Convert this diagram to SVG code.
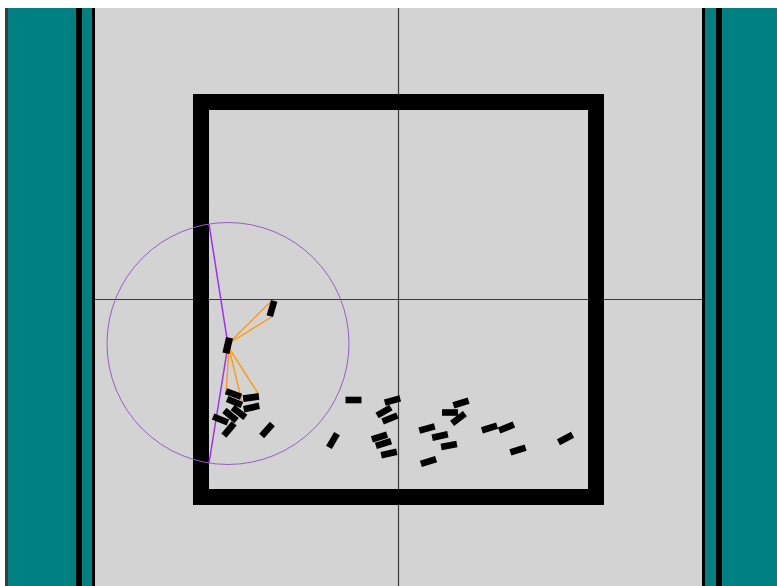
<svg xmlns="http://www.w3.org/2000/svg" xmlns:xlink="http://www.w3.org/1999/xlink" width="777" height="586" viewBox="0 0 777 586">
  <style>
    .teal { fill: #008080; }
    .blk { fill: #000000; }
    .axis { stroke: #3a3a3a; stroke-width: 1.2; fill: none; }
    .ray { stroke: #ff9a10; stroke-width: 1.4; fill: none; }
    .sense { stroke: #a030f0; stroke-width: 1.5; fill: none; }
  </style>
  <defs>
    <rect id="ob" x="-8" y="-3.3" width="16" height="6.6" fill="#000"/>
  </defs>
  <rect x="0" y="0" width="777" height="586" fill="#ffffff"/>
  <!-- left walls -->
  <rect x="5" y="8" width="3" height="578" fill="#3c3c3c"/>
  <rect class="teal" x="8" y="8" width="68" height="578"/>
  <rect class="blk" x="76" y="8" width="6" height="578"/>
  <rect class="teal" x="82" y="8" width="10" height="578"/>
  <rect class="blk" x="92" y="8" width="3" height="578"/>
  <!-- arena -->
  <rect x="95" y="8" width="607" height="578" fill="#d3d3d3"/>
  <!-- right walls -->
  <rect class="blk" x="702" y="8" width="3" height="578"/>
  <rect class="teal" x="705" y="8" width="11" height="578"/>
  <rect class="blk" x="716" y="8" width="6" height="578"/>
  <rect class="teal" x="722" y="8" width="55" height="578"/>
  <!-- axes -->
  <g id="axes">
    <line class="axis" x1="398.5" y1="8" x2="398.5" y2="586"/>
    <line class="axis" x1="95" y1="299.5" x2="702" y2="299.5"/>
  </g>
  <!-- square frame -->
  <rect x="201" y="102" width="395" height="395" fill="none" stroke="#000" stroke-width="16"/>
  <!-- sensing circle -->
  <circle cx="228" cy="343.5" r="121" fill="none" stroke="#9a5cc8" stroke-width="1"/>
  <g id="connectors">
    <polyline class="sense" points="209,224 228,345 209,463"/>
    <line class="ray" x1="231" y1="341" x2="271" y2="301.5"/>
    <line class="ray" x1="231" y1="342" x2="272.5" y2="316.5"/>
    <line class="ray" x1="229" y1="348" x2="226" y2="394"/>
    <line class="ray" x1="229" y1="348" x2="242" y2="402"/>
    <line class="ray" x1="229" y1="348" x2="258.5" y2="394"/>
  </g>
  <!-- robot -->
  <g id="robot">
    <rect x="-8" y="-3.6" width="16" height="7.2" fill="#000" transform="translate(227.7,345.5) rotate(103)"/>
  </g>
  <!-- obstacles -->
  <g id="obstacles">
    <use xlink:href="#ob" href="#ob" transform="translate(272,308.5) rotate(106)"/>
    <use xlink:href="#ob" href="#ob" transform="translate(233.5,394) rotate(20)"/>
    <use xlink:href="#ob" href="#ob" transform="translate(251,397.5) rotate(-8)"/>
    <use xlink:href="#ob" href="#ob" transform="translate(234.5,402) rotate(22)"/>
    <use xlink:href="#ob" href="#ob" transform="translate(251.5,407.5) rotate(-12)"/>
    <use xlink:href="#ob" href="#ob" transform="translate(230.5,415.5) rotate(40)"/>
    <use xlink:href="#ob" href="#ob" transform="translate(239,412.5) rotate(37)"/>
    <use xlink:href="#ob" href="#ob" transform="translate(220.5,419.5) rotate(22)"/>
    <use xlink:href="#ob" href="#ob" transform="translate(229,429.5) rotate(-50)"/>
    <use xlink:href="#ob" href="#ob" transform="translate(267,430) rotate(-48)"/>
    <use xlink:href="#ob" href="#ob" transform="translate(353.5,400) rotate(0)"/>
    <use xlink:href="#ob" href="#ob" transform="translate(392.5,400.5) rotate(-15)"/>
    <use xlink:href="#ob" href="#ob" transform="translate(384,411.5) rotate(-30)"/>
    <use xlink:href="#ob" href="#ob" transform="translate(390,418.5) rotate(-22)"/>
    <use xlink:href="#ob" href="#ob" transform="translate(333,440.5) rotate(-60)"/>
    <use xlink:href="#ob" href="#ob" transform="translate(379.5,437) rotate(-18)"/>
    <use xlink:href="#ob" href="#ob" transform="translate(383.5,443.5) rotate(-18)"/>
    <use xlink:href="#ob" href="#ob" transform="translate(389,453.5) rotate(-12)"/>
    <use xlink:href="#ob" href="#ob" transform="translate(427,428.5) rotate(-15)"/>
    <use xlink:href="#ob" href="#ob" transform="translate(440,436) rotate(-12)"/>
    <use xlink:href="#ob" href="#ob" transform="translate(449,445.5) rotate(-10)"/>
    <use xlink:href="#ob" href="#ob" transform="translate(428.5,461.5) rotate(-18)"/>
    <use xlink:href="#ob" href="#ob" transform="translate(450,412.5) rotate(0)"/>
    <use xlink:href="#ob" href="#ob" transform="translate(461,403) rotate(-18)"/>
    <use xlink:href="#ob" href="#ob" transform="translate(458.5,418.5) rotate(-37)"/>
    <use xlink:href="#ob" href="#ob" transform="translate(489.5,428) rotate(-18)"/>
    <use xlink:href="#ob" href="#ob" transform="translate(506.5,427.5) rotate(-22)"/>
    <use xlink:href="#ob" href="#ob" transform="translate(518,450) rotate(-18)"/>
    <use xlink:href="#ob" href="#ob" transform="translate(565.5,438.5) rotate(-28)"/>
  </g>
</svg>
